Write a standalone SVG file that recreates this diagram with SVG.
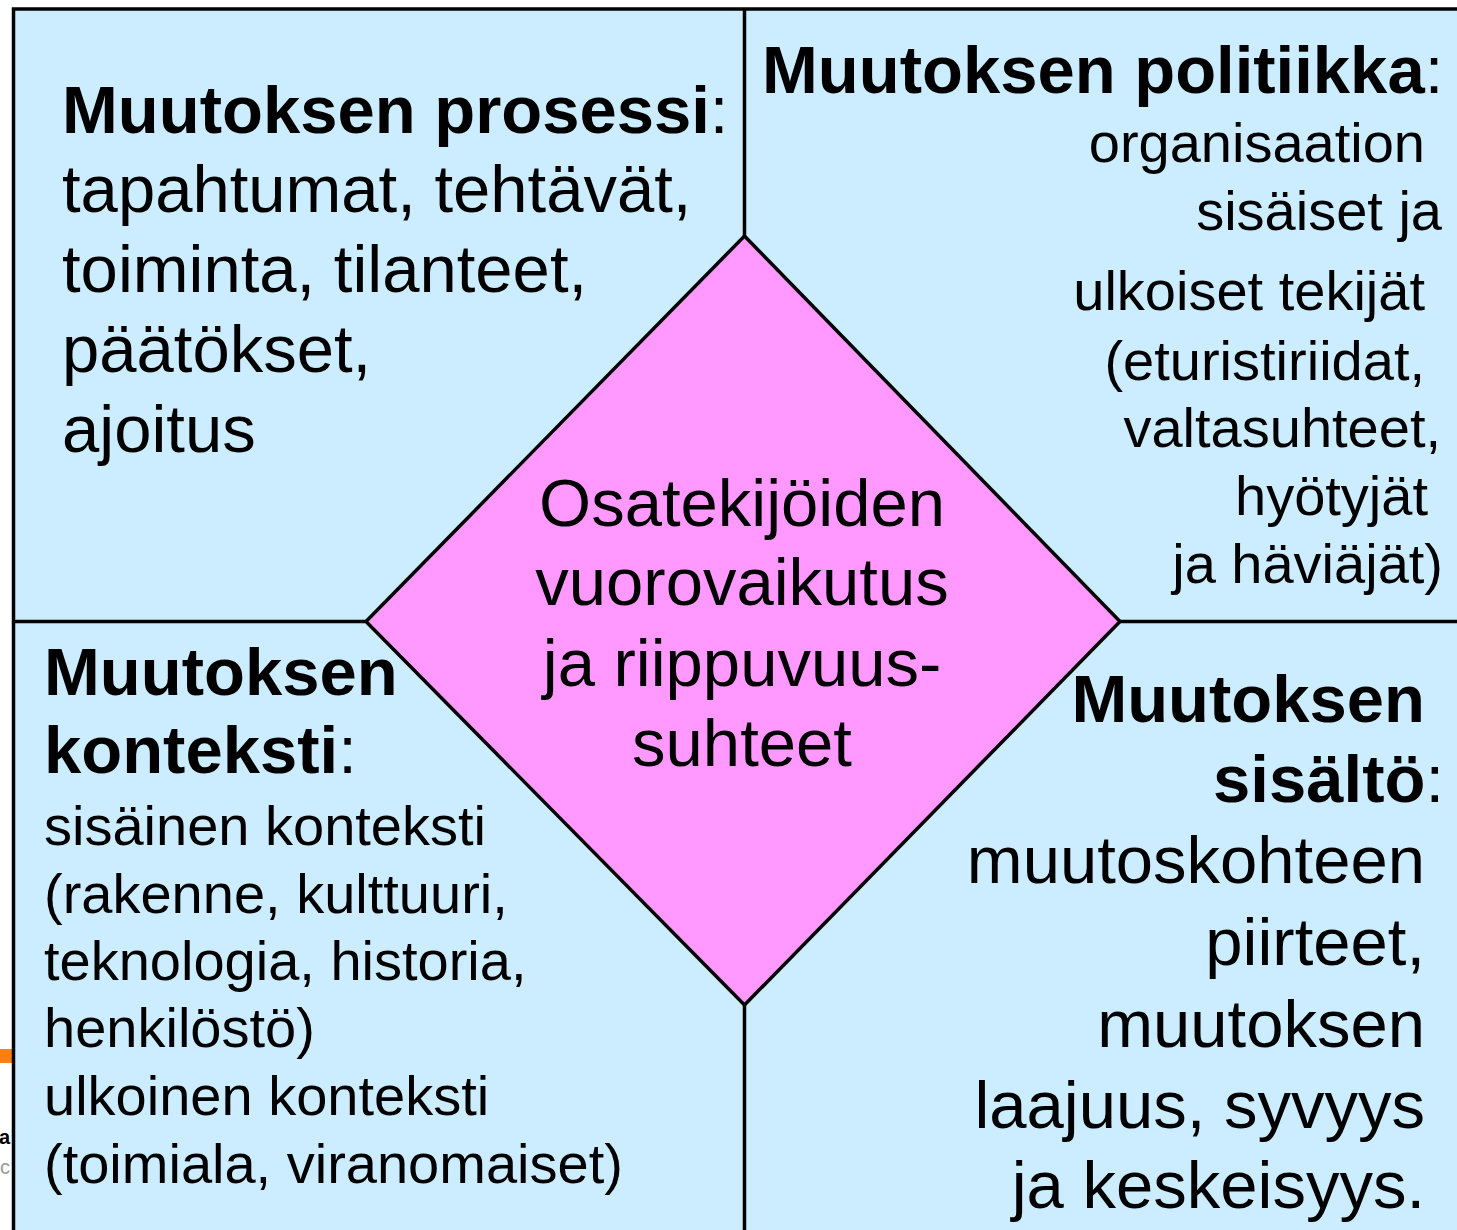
<svg xmlns="http://www.w3.org/2000/svg" width="1457" height="1230" viewBox="0 0 1457 1230">
<style>
text{font-family:"Liberation Sans",Arial,sans-serif;fill:#000}
.t{font-size:67px}
.b{font-weight:bold}
.s{font-size:56px}
.ln{stroke:#000;stroke-width:3.5;fill:none}
</style>
<rect x="0" y="0" width="1457" height="1230" fill="#fff"/>
<rect x="0" y="1049" width="12" height="14" fill="#FF8010"/>
<text x="10" y="1144" text-anchor="end" style="font-size:20px;font-weight:bold">a</text>
<text x="10" y="1174" text-anchor="end" style="font-size:20px;fill:#999">c</text>
<g id="frame">
<rect x="13.5" y="9" width="1460" height="1240" fill="#CCECFF" stroke="#000" stroke-width="3.5"/>
</g>
<g id="connectors">
<line class="ln" x1="744.5" y1="9" x2="744.5" y2="236"/>
<line class="ln" x1="744.5" y1="1005" x2="744.5" y2="1240"/>
<line class="ln" x1="13" y1="621.5" x2="366" y2="621.5"/>
<line class="ln" x1="1120" y1="621.5" x2="1460" y2="621.5"/>
</g>
<g id="center">
<polygon points="744.5,236 1120,621.5 744.5,1005 366,621.5" fill="#FF99FF" stroke="#000" stroke-width="3.5"/>
<text class="t" text-anchor="middle" x="742" y="526">Osatekijöiden</text>
<text class="t" text-anchor="middle" x="742" y="605">vuorovaikutus</text>
<text class="t" text-anchor="middle" x="742" y="686">ja riippuvuus-</text>
<text class="t" text-anchor="middle" x="742" y="766">suhteet</text>
</g>
<g id="prosessi">
<text class="t" x="62" y="133"><tspan class="b">Muutoksen prosessi</tspan>:</text>
<text class="t" x="62" y="212">tapahtumat, tehtävät,</text>
<text class="t" x="62" y="292">toiminta, tilanteet,</text>
<text class="t" x="62" y="372">päätökset,</text>
<text class="t" x="62" y="452">ajoitus</text>
</g>
<g id="politiikka">
<text class="t" x="762" y="93"><tspan class="b">Muutoksen politiikka</tspan>:</text>
<text class="s" text-anchor="end" x="1425" y="162">organisaation</text>
<text class="s" text-anchor="end" x="1442" y="230">sisäiset ja</text>
<text class="s" text-anchor="end" x="1425" y="310">ulkoiset tekijät</text>
<text class="s" text-anchor="end" x="1425" y="380">(eturistiriidat,</text>
<text class="s" text-anchor="end" x="1441" y="447">valtasuhteet,</text>
<text class="s" text-anchor="end" x="1428" y="515">hyötyjät</text>
<text class="s" text-anchor="end" x="1443" y="583">ja häviäjät)</text>
</g>
<g id="konteksti">
<text class="t b" x="44" y="695">Muutoksen</text>
<text class="t" x="44" y="773"><tspan class="b">konteksti</tspan>:</text>
<text class="s" x="44" y="845">sisäinen konteksti</text>
<text class="s" x="44" y="913">(rakenne, kulttuuri,</text>
<text class="s" x="44" y="980">teknologia, historia,</text>
<text class="s" x="44" y="1047">henkilöstö)</text>
<text class="s" x="44" y="1115">ulkoinen konteksti</text>
<text class="s" x="44" y="1183">(toimiala, viranomaiset)</text>
</g>
<g id="sisalto">
<text class="t b" text-anchor="end" x="1425" y="722">Muutoksen</text>
<text class="t" text-anchor="end" x="1444" y="802"><tspan class="b">sisältö</tspan>:</text>
<text class="t" text-anchor="end" x="1425" y="883">muutoskohteen</text>
<text class="t" text-anchor="end" x="1425" y="965">piirteet,</text>
<text class="t" text-anchor="end" x="1425" y="1047">muutoksen</text>
<text class="t" text-anchor="end" x="1425" y="1128">laajuus, syvyys</text>
<text class="t" text-anchor="end" x="1425" y="1208">ja keskeisyys.</text>
</g>
</svg>
